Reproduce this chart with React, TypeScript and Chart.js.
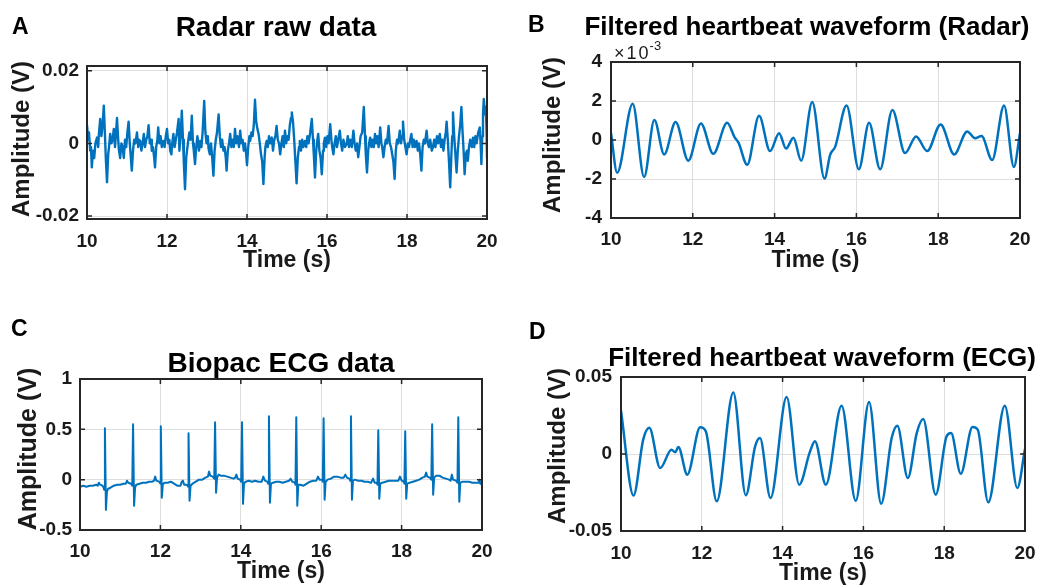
import React, { useEffect, useRef } from 'react';
import { Chart, registerables } from 'chart.js';

Chart.register(...registerables);

const FONT = '"Liberation Sans", Arial, Helvetica, sans-serif';
const LINE = '#0072BD';
const AXIS = '#262626';
const GRID = '#dedede';
const TEXT = '#1a1a1a';

// ---------- shared x axis ----------
const timeTicks = [10, 12, 14, 16, 18, 20];

// ---------- Panel A: Radar raw data (values in mV) ----------
const radarRawTime = [
  10.00, 10.03, 10.05, 10.08, 10.10, 10.12, 10.15, 10.18, 10.21, 10.25, 10.28, 10.30, 10.33, 10.36, 10.39, 10.42, 10.45, 10.47,
  10.50, 10.53, 10.55, 10.58, 10.61, 10.64, 10.67, 10.70, 10.72, 10.75, 10.78, 10.80, 10.83, 10.86, 10.89, 10.92, 10.95, 10.98,
  11.01, 11.04, 11.07, 11.09, 11.12, 11.15, 11.18, 11.21, 11.25, 11.28, 11.30, 11.33, 11.36, 11.39, 11.42, 11.45, 11.48,
  11.51, 11.54, 11.57, 11.60, 11.62, 11.65, 11.68, 11.70, 11.73, 11.76, 11.78, 11.81, 11.84, 11.87, 11.91, 11.94, 11.97,
  12.00, 12.03, 12.06, 12.08, 12.11, 12.13, 12.16, 12.19, 12.22, 12.25, 12.29, 12.31, 12.34, 12.37, 12.40, 12.42, 12.45, 12.48,
  12.50, 12.53, 12.56, 12.59, 12.62, 12.65, 12.67, 12.70, 12.73, 12.76, 12.80, 12.83, 12.86, 12.89, 12.93, 12.96, 12.99,
  13.02, 13.04, 13.07, 13.10, 13.13, 13.16, 13.19, 13.22, 13.25, 13.29, 13.32, 13.35, 13.38, 13.41, 13.44, 13.47,
  13.49, 13.52, 13.55, 13.58, 13.61, 13.64, 13.67, 13.70, 13.73, 13.76, 13.80, 13.83, 13.86, 13.89, 13.92, 13.95, 13.98,
  14.00, 14.03, 14.06, 14.08, 14.11, 14.14, 14.17, 14.20, 14.23, 14.26, 14.29, 14.32, 14.35, 14.38, 14.41, 14.44, 14.46,
  14.49, 14.52, 14.55, 14.58, 14.62, 14.65, 14.68, 14.71, 14.74, 14.77, 14.80, 14.83, 14.86, 14.89, 14.92, 14.95, 14.98,
  15.01, 15.04, 15.07, 15.10, 15.12, 15.15, 15.18, 15.21, 15.24, 15.27, 15.30, 15.32, 15.35, 15.38, 15.41, 15.45, 15.48,
  15.51, 15.54, 15.58, 15.62, 15.65, 15.67, 15.70, 15.73, 15.76, 15.78, 15.81, 15.84, 15.87, 15.90, 15.92, 15.95, 15.98,
  16.01, 16.04, 16.08, 16.11, 16.13, 16.16, 16.19, 16.22, 16.25, 16.28, 16.32, 16.35, 16.38, 16.41, 16.45, 16.49,
  16.52, 16.55, 16.58, 16.62, 16.66, 16.69, 16.72, 16.75, 16.78, 16.81, 16.84, 16.88, 16.92, 16.95, 16.97,
  17.00, 17.03, 17.05, 17.08, 17.11, 17.14, 17.17, 17.20, 17.23, 17.26, 17.29, 17.33, 17.36, 17.38, 17.41, 17.44, 17.47,
  17.50, 17.54, 17.57, 17.60, 17.63, 17.66, 17.69, 17.72, 17.75, 17.78, 17.82, 17.85, 17.88, 17.90, 17.93, 17.96, 17.99,
  18.02, 18.05, 18.08, 18.11, 18.14, 18.17, 18.20, 18.24, 18.27, 18.30, 18.33, 18.36, 18.39, 18.42, 18.45, 18.49,
  18.52, 18.55, 18.58, 18.62, 18.65, 18.68, 18.71, 18.75, 18.78, 18.82, 18.85, 18.88, 18.91, 18.94, 18.97, 18.99,
  19.02, 19.05, 19.08, 19.11, 19.13, 19.15, 19.18, 19.21, 19.24, 19.27, 19.30, 19.33, 19.36, 19.39, 19.42, 19.44, 19.47,
  19.50, 19.52, 19.55, 19.58, 19.62, 19.65, 19.68, 19.71, 19.74, 19.78, 19.82, 19.84, 19.86, 19.88, 19.90, 19.92, 19.95, 19.97, 19.99, 20.00,
];
const radarRawMilliVolts = [
  5, 1, 3, -2, -1, -6.6, -2, -4, 0, 1.6, -1, 3, 6.7, 2, 5, 10.4, 2, -4,
  -10.7, -3, -1, 2.6, 0, 1, 4, -1, 2, 7, 1, -2, -4, 0, -1, -4, 1, -1,
  3, 6, 0, -3, -7.5, -2, 1, 0, 3, -1, 1, 0.7, -2, 0, 2.6, -1, 1,
  2, 5, 0, 1, -2, -1, -4, -6.6, -1, 1, 4.4, 0, 2, -1, 0.7, -1, 2,
  4, 0, 1, -2, -3, 0, 2.6, -1, 1, 3, 6.7, -2, 2, 9, 1, -5, -12.6, -4,
  -2, 0.7, 3, 1, 7.6, 0, -2, -5.7, -1, 2, -2, 0.7, -1, 3, 11.7, 3, 0,
  2, -1.5, -3, 0, -4, -8.9, -2, 1, 3, 8, 2, -1, 1, -2, -1, -4,
  -7.5, -2, 0, 2.6, -1, 1, -1, 4, 0, 2, -1, 3.5, 0, 1, -2, 0, -3,
  -6, -1, 2, 0.7, 3, 2, 5, 12, 6, 4, 2.6, 0, -3, -5, -11.2, -4, -1,
  0.7, -1, 2, 0, 1.6, -2, 1, 2, 4.8, 1, 0, -3, 0, 2, -1, 3.5, 0,
  2, 1, 5, 7, 8.5, 6, 1, -5, -11, -4, -1, 0.7, -2, 1, -1, 0.7, -1,
  2, 0, 3, 6.7, 1, -3, -9.4, -2, 1, 2.6, -2, -4, -8.5, -2, 0, 1.6, -1,
  2, 0, 5.3, 1, -1, -3, 0, 2, -1, 1, 3.5, 0, -2, 1, -1, -0.2,
  2, -1, 1, -1, 3.5, 0, -2, 0, -3.8, -1, 2, 3, 10, 2, -3,
  -8, -2, 0, 1.6, -1, 1, -1, 2.6, 0, 2, -1, 4.4, 0, -1, -3.8, -1, 1,
  0, 4.8, 0, -1, -3, -5, -9.8, -2, 1, 0, 3.5, 0, 2, 6, 1, -1, -3,
  0, -1, 1, 2.6, -1, 1, -1, 0.7, -2, 0, -3, -7.5, -1, 1, 0, 3.5,
  0, -1, 1, -2, -1, 1, -1, 2, 0, 2.6, -1, 1, -2, 1, 3, 6,
  1, -5, -12.1, -3, 2, 8.5, 2, -3, -8, -2, 2, 5, 10, 3, -3, -8.5, -3,
  -2, -4.8, -1, 1, -1, 1.6, -1, 2, 0, 3, 4.4, 0, -5.7, 2, 8, 12.2, 8, 10, 3, -4,
];
const radarRawTickValues = [-20, 0, 20];
const radarRawTickLabels = ['-0.02', '0', '0.02'];

// ---------- Panel B: filtered radar waveform (x10^-3 V) ----------
const radarFiltTime = [
  10.00, 10.15, 10.53, 10.81, 11.06, 11.30, 11.58, 11.89, 12.20, 12.50, 12.84, 13.02, 13.12, 13.33,
  13.62, 13.89, 14.11, 14.28, 14.46, 14.65, 14.92, 15.22, 15.36, 15.48, 15.76, 16.06, 16.31, 16.58,
  16.88, 17.19, 17.46, 17.73, 18.06, 18.39, 18.71, 18.90, 19.06, 19.32, 19.61, 19.85, 20.00,
];
const radarFiltValues = [
  0.35, -1.68, 1.86, -1.9, 1.03, -0.74, 0.92, -1.06, 0.85, -0.71, 0.88, 0.15, -0.15, -1.27,
  1.24, -0.57, 0.35, -0.44, 0.12, -1.06, 1.95, -1.98, -0.75, -0.35, 1.77, -1.5, 0.88, -1.5,
  1.54, -0.67, 0.18, -0.57, 0.8, -0.74, 0.44, 0.09, 0.2, -1.03, 1.77, -1.38, 0.35,
];
const radarFiltTickValues = [-4, -2, 0, 2, 4];
const radarFiltTickLabels = ['-4', '-2', '0', '2', '4'];

// ---------- Panel C: Biopac ECG data (V) ----------
const ecgTime = [
  10.00, 10.08, 10.16, 10.24, 10.32, 10.40, 10.44, 10.47, 10.50, 10.56, 10.59, 10.60, 10.62, 10.645, 10.67, 10.70, 10.76, 10.84, 10.92, 11.00, 11.08,
  11.14, 11.17, 11.20, 11.27, 11.30, 11.32, 11.345, 11.37, 11.40, 11.48, 11.56, 11.64, 11.72, 11.80,
  11.84, 11.87, 11.90, 11.97, 12.00, 12.01, 12.035, 12.06, 12.10, 12.18, 12.26, 12.34, 12.42, 12.50,
  12.53, 12.56, 12.59, 12.66, 12.69, 12.70, 12.725, 12.75, 12.80, 12.88, 12.96, 13.04, 13.12, 13.18,
  13.21, 13.24, 13.30, 13.34, 13.36, 13.385, 13.41, 13.45, 13.50, 13.58, 13.66, 13.74, 13.82, 13.86,
  13.89, 13.92, 13.98, 14.01, 14.03, 14.055, 14.08, 14.12, 14.20, 14.28, 14.36, 14.44, 14.52,
  14.56, 14.60, 14.66, 14.68, 14.70, 14.725, 14.75, 14.80, 14.88, 14.96, 15.04, 15.12, 15.20,
  15.24, 15.28, 15.34, 15.36, 15.38, 15.405, 15.43, 15.48, 15.56, 15.64, 15.72, 15.80, 15.88,
  15.92, 15.96, 16.02, 16.04, 16.06, 16.085, 16.11, 16.16, 16.24, 16.32, 16.40, 16.48, 16.56,
  16.60, 16.64, 16.70, 16.72, 16.74, 16.765, 16.79, 16.84, 16.92, 17.00, 17.08, 17.16, 17.24,
  17.29, 17.33, 17.38, 17.40, 17.42, 17.445, 17.47, 17.52, 17.60, 17.68, 17.76, 17.84, 17.92,
  17.96, 18.00, 18.05, 18.07, 18.09, 18.115, 18.14, 18.20, 18.28, 18.36, 18.44, 18.52, 18.58,
  18.61, 18.64, 18.70, 18.74, 18.76, 18.785, 18.81, 18.86, 18.94, 19.02, 19.10, 19.18, 19.22,
  19.25, 19.28, 19.36, 19.39, 19.41, 19.435, 19.46, 19.52, 19.60, 19.68, 19.76, 19.84, 19.92, 19.94, 19.96, 20.00,
];
const ecgValues = [
  -0.07, -0.06, -0.07, -0.06, -0.06, -0.05, -0.06, -0.03, -0.05, -0.06, -0.08, -0.10, 0.51, -0.30, -0.12, -0.09, -0.08, -0.06, -0.05, -0.05, -0.04,
  -0.04, -0.01, -0.03, -0.04, -0.06, 0.55, -0.26, -0.08, -0.05, -0.04, -0.03, -0.03, -0.02, -0.02,
  -0.01, 0.03, -0.01, -0.02, -0.04, 0.53, -0.18, -0.05, -0.03, -0.03, -0.02, -0.04, -0.06, -0.06,
  -0.02, -0.01, -0.05, -0.05, -0.07, 0.46, -0.21, -0.06, -0.04, -0.02, 0.00, 0.00, 0.02, 0.03,
  0.08, 0.04, 0.03, 0.01, 0.57, -0.13, 0.02, 0.05, 0.04, 0.04, 0.03, 0.02, 0.01, 0.02,
  0.05, 0.01, 0.00, -0.02, 0.57, -0.24, -0.04, -0.02, -0.01, -0.02, -0.01, -0.02, -0.02,
  0.03, -0.01, -0.02, -0.04, 0.63, -0.23, -0.04, -0.03, -0.02, -0.02, -0.03, -0.02, -0.01,
  0.01, -0.02, -0.03, -0.05, 0.62, -0.26, -0.05, -0.05, -0.06, -0.04, -0.02, -0.01, -0.01,
  0.03, 0.00, 0.00, -0.02, 0.61, -0.20, -0.02, 0.00, 0.01, 0.03, 0.03, 0.02, 0.02,
  0.05, 0.02, 0.01, -0.01, 0.63, -0.20, -0.01, 0.00, -0.01, -0.01, -0.02, -0.02, -0.03,
  0.01, -0.03, -0.03, -0.05, 0.49, -0.19, -0.04, -0.03, -0.02, -0.01, -0.01, -0.01, -0.01,
  0.03, -0.01, -0.02, -0.04, 0.48, -0.19, -0.04, -0.03, -0.02, -0.01, 0.00, 0.02, 0.03,
  0.07, 0.03, 0.02, 0.00, 0.55, -0.15, 0.02, 0.04, 0.04, 0.02, 0.01, 0.00, -0.01,
  0.05, 0.00, -0.01, -0.03, 0.62, -0.22, -0.03, -0.02, -0.02, -0.02, -0.03, -0.03, -0.03, 0.00, -0.04, -0.05,
];
const ecgTickValues = [-0.5, 0, 0.5, 1];
const ecgTickLabels = ['-0.5', '0', '0.5', '1'];

// ---------- Panel D: filtered ECG waveform (V) ----------
const ecgFiltTime = [
  10.00, 10.31, 10.55, 10.70, 10.97, 11.25, 11.34, 11.42, 11.64, 11.96, 12.10, 12.37, 12.78, 13.09,
  13.32, 13.44, 13.70, 14.10, 14.41, 14.68, 14.80, 15.07, 15.46, 15.81, 16.14, 16.44, 16.70, 16.84,
  17.10, 17.32, 17.48, 17.79, 18.06, 18.17, 18.41, 18.70, 18.83, 19.09, 19.50, 19.81, 20.00,
];
const ecgFiltValues = [
  0.028, -0.027, 0.0093, 0.017, -0.0091, 0.0028, 0.0011, 0.0045, -0.0134, 0.0173, 0.0147, -0.0307, 0.040, -0.0268,
  0.005, 0.0104, -0.0286, 0.037, -0.0199, 0.0017, 0.0082, -0.0199, 0.0314, -0.0303, 0.0338, -0.0323, 0.0104, 0.0184,
  -0.0156, 0.0136, 0.0227, -0.0264, 0.0115, 0.0136, -0.0128, 0.0175, 0.0158, -0.0314, 0.0314, -0.0221, 0.0032,
];
const ecgFiltTickValues = [-0.05, 0, 0.05];
const ecgFiltTickLabels = ['-0.05', '0', '0.05'];

type PanelSpec = {
  id: string;
  box: { left: number; top: number; width: number; height: number };
  padTop: number;
  padRight: number;
  yWidth: number;
  xHeight: number;
  yTickPad: number;
  xTickPad: number;
  xTitlePad: number;
  yTitle: { x: number; y: number; size: number };
  yMin: number;
  yMax: number;
  yTicks: number[];
  yLabels: string[];
  t: number[];
  v: number[];
  lineWidth: number;
  smooth: boolean;
};

const panels: PanelSpec[] = [
  {
    id: 'A',
    box: { left: 0, top: 0, width: 520, height: 294 },
    padTop: 66, padRight: 33, yWidth: 87, xHeight: 75,
    yTickPad: 8, xTickPad: 11, xTitlePad: 20,
    yTitle: { x: 22, y: 139, size: 24 },
    yMin: -20.8, yMax: 21.3,
    yTicks: radarRawTickValues, yLabels: radarRawTickLabels,
    t: radarRawTime, v: radarRawMilliVolts, lineWidth: 2.4, smooth: false,
  },
  {
    id: 'B',
    box: { left: 520, top: 0, width: 527, height: 294 },
    padTop: 62, padRight: 27, yWidth: 91, xHeight: 76,
    yTickPad: 9, xTickPad: 10, xTitlePad: 20,
    yTitle: { x: 33, y: 135, size: 24 },
    yMin: -4, yMax: 4,
    yTicks: radarFiltTickValues, yLabels: radarFiltTickLabels,
    t: radarFiltTime, v: radarFiltValues, lineWidth: 2.5, smooth: true,
  },
  {
    id: 'C',
    box: { left: 0, top: 294, width: 520, height: 294 },
    padTop: 85, padRight: 38, yWidth: 80, xHeight: 58,
    yTickPad: 8, xTickPad: 10, xTitlePad: 3,
    yTitle: { x: 29, y: 155, size: 25 },
    yMin: -0.5, yMax: 1,
    yTicks: ecgTickValues, yLabels: ecgTickLabels,
    t: ecgTime, v: ecgValues, lineWidth: 2, smooth: false,
  },
  {
    id: 'D',
    box: { left: 520, top: 294, width: 527, height: 294 },
    padTop: 83, padRight: 22, yWidth: 101, xHeight: 57,
    yTickPad: 9, xTickPad: 11, xTitlePad: 1,
    yTitle: { x: 38, y: 152, size: 24 },
    yMin: -0.05, yMax: 0.05,
    yTicks: ecgFiltTickValues, yLabels: ecgFiltTickLabels,
    t: ecgFiltTime, v: ecgFiltValues, lineWidth: 2.5, smooth: true,
  },
];

function makePoints(t: number[], v: number[]) {
  const pts: { x: number; y: number }[] = [];
  const n = Math.min(t.length, v.length);
  for (let i = 0; i < n; i++) pts.push({ x: t[i], y: v[i] });
  return pts;
}

function makeAxesPlugin(p: PanelSpec) {
  return {
    id: 'matlabAxes' + p.id,
    afterDraw(chart: any) {
      const { ctx, chartArea: a, scales } = chart;
      ctx.save();
      // inward tick marks
      ctx.strokeStyle = AXIS;
      ctx.lineWidth = 1.5;
      const tl = 5;
      ctx.beginPath();
      scales.x.ticks.forEach((tk: any) => {
        const px = scales.x.getPixelForValue(tk.value);
        ctx.moveTo(px, a.bottom);
        ctx.lineTo(px, a.bottom - tl);
        ctx.moveTo(px, a.top);
        ctx.lineTo(px, a.top + tl);
      });
      scales.y.ticks.forEach((tk: any) => {
        const py = scales.y.getPixelForValue(tk.value);
        ctx.moveTo(a.left, py);
        ctx.lineTo(a.left + tl, py);
        ctx.moveTo(a.right, py);
        ctx.lineTo(a.right - tl, py);
      });
      ctx.stroke();
      // box
      ctx.lineWidth = 2;
      ctx.strokeRect(a.left, a.top, a.right - a.left, a.bottom - a.top);
      // y axis title
      ctx.fillStyle = TEXT;
      ctx.font = `bold ${p.yTitle.size}px ${FONT}`;
      ctx.textAlign = 'center';
      ctx.textBaseline = 'middle';
      ctx.translate(p.yTitle.x, p.yTitle.y);
      ctx.rotate(-Math.PI / 2);
      ctx.fillText('Amplitude (V)', 0, 0);
      ctx.restore();
    },
  };
}

function Panel({ p }: { p: PanelSpec }) {
  const ref = useRef<HTMLCanvasElement | null>(null);
  useEffect(() => {
    if (!ref.current) return;
    const tickFont = { family: FONT, size: 19, weight: 'bold' as const };
    const chart = new Chart(ref.current, {
      type: 'line',
      data: {
        datasets: [
          {
            data: makePoints(p.t, p.v),
            borderColor: LINE,
            borderWidth: p.lineWidth,
            pointRadius: 0,
            fill: false,
            tension: 0,
            cubicInterpolationMode: p.smooth ? 'monotone' : 'default',
            borderJoinStyle: 'round',
            borderCapStyle: 'round',
          } as any,
        ],
      },
      options: {
        animation: false,
        responsive: false,
        events: [],
        layout: { padding: { left: 0, top: p.padTop, right: p.padRight, bottom: 0 } },
        plugins: {
          legend: { display: false },
          tooltip: { enabled: false },
          title: { display: false },
        },
        scales: {
          x: {
            type: 'linear',
            min: 10,
            max: 20,
            afterBuildTicks: (s: any) => {
              s.ticks = timeTicks.map((value) => ({ value }));
            },
            ticks: {
              padding: p.xTickPad,
              color: TEXT,
              font: tickFont,
              maxRotation: 0,
              autoSkip: false,
              callback: (value: any) => String(value),
            },
            grid: { color: GRID, drawTicks: false, lineWidth: 1 },
            border: { display: false },
            title: {
              display: true,
              text: 'Time (s)',
              color: TEXT,
              font: { family: FONT, size: 23, weight: 'bold' },
              padding: { top: 0, bottom: p.xTitlePad },
            },
            afterFit: (s: any) => {
              s.height = p.xHeight;
            },
          },
          y: {
            type: 'linear',
            min: p.yMin,
            max: p.yMax,
            afterBuildTicks: (s: any) => {
              s.ticks = p.yTicks.map((value) => ({ value }));
            },
            ticks: {
              padding: p.yTickPad,
              color: TEXT,
              font: tickFont,
              autoSkip: false,
              callback: (_v: any, i: number) => p.yLabels[i],
            },
            grid: { color: GRID, drawTicks: false, lineWidth: 1 },
            border: { display: false },
            afterFit: (s: any) => {
              s.width = p.yWidth;
            },
          },
        },
      } as any,
      plugins: [makeAxesPlugin(p)],
    });
    return () => chart.destroy();
  }, [p]);
  return (
    <canvas
      ref={ref}
      width={p.box.width}
      height={p.box.height}
      style={{
        position: 'absolute',
        left: p.box.left,
        top: p.box.top,
        width: p.box.width,
        height: p.box.height,
      }}
    />
  );
}

type Label = { text: string; x: number; top: number; size: number; center: boolean };

const panelLetters: Label[] = [
  { text: 'A', x: 12, top: 15, size: 23, center: false },
  { text: 'B', x: 528, top: 13, size: 23, center: false },
  { text: 'C', x: 11, top: 317, size: 23, center: false },
  { text: 'D', x: 529, top: 320, size: 23, center: false },
];

const panelTitles: Label[] = [
  { text: 'Radar raw data', x: 276, top: 13, size: 28, center: true },
  { text: 'Filtered heartbeat waveform (Radar)', x: 807, top: 13, size: 26, center: true },
  { text: 'Biopac ECG data', x: 281, top: 349, size: 28, center: true },
  { text: 'Filtered heartbeat waveform (ECG)', x: 822, top: 344, size: 26, center: true },
];

function TextLabel({ l }: { l: Label }) {
  return (
    <div
      style={{
        position: 'absolute',
        left: l.x,
        top: l.top,
        fontSize: l.size,
        lineHeight: `${l.size}px`,
        fontWeight: 'bold',
        color: '#000',
        whiteSpace: 'nowrap',
        transform: l.center ? 'translateX(-50%)' : undefined,
      }}
    >
      {l.text}
    </div>
  );
}

export default function App() {
  return (
    <div
      style={{
        position: 'absolute',
        left: 0,
        top: 0,
        width: 1047,
        height: 588,
        background: '#ffffff',
        overflow: 'hidden',
        fontFamily: FONT,
      }}
    >
      {panels.map((p) => (
        <Panel key={p.id} p={p} />
      ))}
      {panelLetters.map((l) => (
        <TextLabel key={'l' + l.text} l={l} />
      ))}
      {panelTitles.map((l) => (
        <TextLabel key={'t' + l.text} l={l} />
      ))}
      <div
        style={{
          position: 'absolute',
          left: 614,
          top: 44,
          fontSize: 18,
          lineHeight: '18px',
          letterSpacing: 2,
          color: TEXT,
          whiteSpace: 'nowrap',
        }}
      >
        ×10
        <span style={{ position: 'relative', top: -9, fontSize: 13, letterSpacing: 0, marginLeft: -1 }}>-3</span>
      </div>
    </div>
  );
}
